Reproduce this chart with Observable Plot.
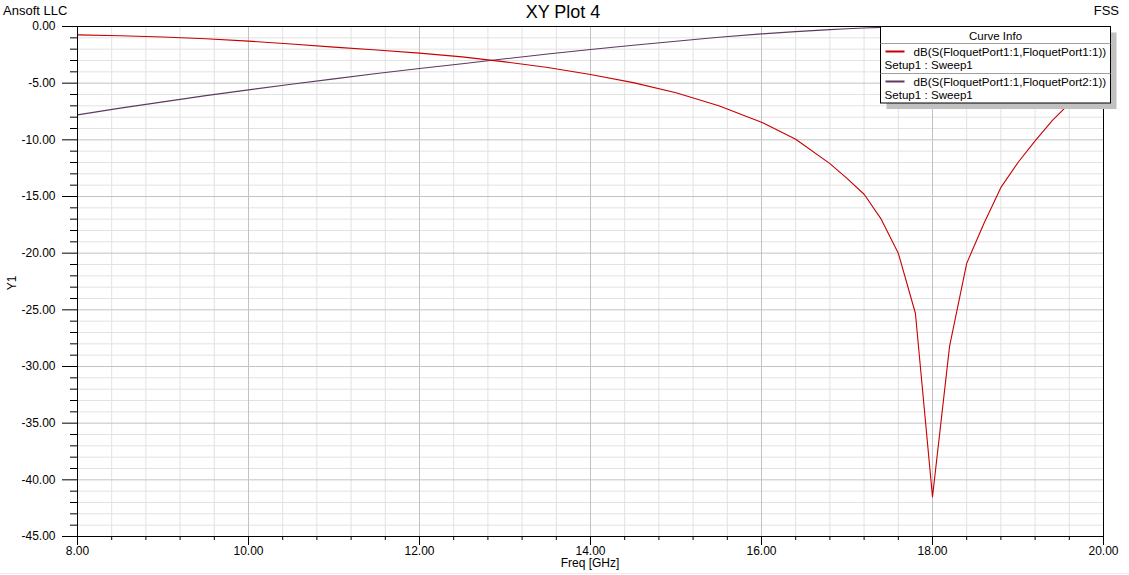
<!DOCTYPE html>
<html>
<head>
<meta charset="utf-8">
<script src="https://cdn.jsdelivr.net/npm/d3@7"></script>
<script src="https://cdn.jsdelivr.net/npm/@observablehq/plot@0.6"></script>
<style>
  html, body { margin: 0; padding: 0; background: #fff; }
  #chart { width: 1129px; height: 575px; position: relative; }
</style>
</head>
<body>
<div id="chart"></div>
<script>
// ---- data ----
const freq = [8.0, 8.5, 9.0, 9.5, 10.0, 10.5, 11.0, 11.5, 12.0, 12.5, 13.0, 13.5, 14.0, 14.5, 15.0, 15.5, 16.0, 16.4, 16.8, 17.0, 17.2, 17.4, 17.6, 17.8, 18.0, 18.2, 18.4, 18.6, 18.8, 19.0, 19.2, 19.4, 19.6, 19.8, 20.0];
const s11 = [-0.74, -0.82, -0.92, -1.08, -1.29, -1.55, -1.82, -2.08, -2.35, -2.68, -3.12, -3.62, -4.24, -4.95, -5.85, -7.0, -8.44, -9.95, -12.1, -13.4, -14.8, -17.0, -20.0, -25.3, -41.5, -28.2, -20.9, -17.4, -14.2, -12.0, -10.1, -8.3, -6.8, -5.6, -4.5];
const s21 = [-7.8, -7.2, -6.65, -6.1, -5.59, -5.1, -4.62, -4.15, -3.71, -3.28, -2.85, -2.42, -2.03, -1.65, -1.3, -0.95, -0.65, -0.45, -0.28, -0.2, -0.13, -0.08, -0.04, -0.01, 0.0, -0.01, -0.04, -0.09, -0.17, -0.28, -0.4, -0.6, -0.9, -1.2, -1.6];
const seriesNames = ["dB(S(FloquetPort1:1,FloquetPort1:1))", "dB(S(FloquetPort1:1,FloquetPort2:1))"];
const seriesSub = "Setup1 : Sweep1";
const seriesColors = ["#c80000", "#5e3a5e"];
const xMajor = [8, 10, 12, 14, 16, 18, 20];
const xMinor = d3.range(0, 31).map(i => +(8 + i * 0.4).toFixed(1)).filter(v => !xMajor.includes(v));
const yMajor = [0, -5, -10, -15, -20, -25, -30, -35, -40, -45];
const yMinor = d3.range(0, -46, -1).filter(v => v % 5 !== 0);

const rows11 = freq.map((f, i) => ({f, v: s11[i]}));
const rows21 = freq.map((f, i) => ({f, v: s21[i]}));

const W = 1129, H = 575;
const FONT = "'Liberation Sans', Arial, sans-serif";

const plot = Plot.plot({
  width: W,
  height: H,
  marginLeft: 77,
  marginRight: 26,
  marginTop: 26,
  marginBottom: 39,
  style: {fontFamily: FONT, fontSize: "12px", color: "#000", background: "#fff", overflow: "visible"},
  x: {domain: [8, 20]},
  y: {domain: [-45, 0]},
  marks: [
    Plot.gridX(xMinor, {stroke: "#e2e2e2", strokeOpacity: 1}),
    Plot.gridY(yMinor, {stroke: "#e2e2e2", strokeOpacity: 1}),
    Plot.gridX(xMajor, {stroke: "#c2c2c2", strokeOpacity: 1}),
    Plot.gridY(yMajor, {stroke: "#c2c2c2", strokeOpacity: 1}),
    Plot.line(rows21, {x: "f", y: "v", stroke: seriesColors[1], strokeWidth: 1.1, clip: true}),
    Plot.line(rows11, {x: "f", y: "v", stroke: seriesColors[0], strokeWidth: 1.1, clip: true}),
    Plot.frame({stroke: "#000", strokeWidth: 1}),
    Plot.axisX(xMinor, {tickSize: 4, tickFormat: () => "", label: null}),
    Plot.axisX(xMajor, {tickSize: 9, tickPadding: 1, tickFormat: d => d.toFixed(2), label: null, fontSize: 12}),
    Plot.axisY(yMinor, {tickSize: 7, tickFormat: () => "", label: null}),
    Plot.axisY(yMajor, {tickSize: 15, tickPadding: 7, tickFormat: d => d.toFixed(2), label: null, fontSize: 12})
  ]
});

document.getElementById("chart").appendChild(plot);

const svg = d3.select(plot);

function txt(parent, x, y, s, anchor, size) {
  return parent.append("text").attr("x", x).attr("y", y)
    .attr("text-anchor", anchor).style("text-anchor", anchor)
    .attr("dominant-baseline", "central")
    .style("font-family", FONT).style("font-size", size + "px").attr("fill", "#000").text(s);
}

// titles and labels
txt(svg, 563, 12, "XY Plot 4", "middle", 18);
txt(svg, 3, 10, "Ansoft LLC", "start", 13);
txt(svg, 1119, 10, "FSS", "end", 13);
svg.append("text").attr("transform", "translate(12,283) rotate(-90)")
  .attr("text-anchor", "middle").style("text-anchor", "middle").attr("dominant-baseline", "central")
  .style("font-family", FONT).style("font-size", "12px").attr("fill", "#000").text("Y1");
txt(svg, 590, 563, "Freq [GHz]", "middle", 12);

// faint bottom border
svg.append("line").attr("x1", 0).attr("x2", W).attr("y1", 573.5).attr("y2", 573.5).attr("stroke", "#ececec");

// legend
const lg = svg.append("g");
const L = {x: 880.5, y: 26.5, w: 230, h: 76.5};
lg.append("rect").attr("x", L.x + 6).attr("y", L.y + 6).attr("width", L.w).attr("height", L.h).attr("fill", "#c0c0c0");
lg.append("rect").attr("x", L.x).attr("y", L.y).attr("width", L.w).attr("height", L.h).attr("fill", "#fff").attr("stroke", "#000");
txt(lg, L.x + L.w / 2, L.y + 9, "Curve Info", "middle", 11.5);
lg.append("line").attr("x1", L.x).attr("x2", L.x + L.w).attr("y1", L.y + 17).attr("y2", L.y + 17).attr("stroke", "#a0a0a0");
seriesNames.forEach((name, i) => {
  const top = L.y + 17 + i * 30;
  lg.append("line").attr("x1", L.x + 5).attr("x2", L.x + 24).attr("y1", top + 8).attr("y2", top + 8)
    .attr("stroke", seriesColors[i]).attr("stroke-width", 2);
  txt(lg, L.x + 33, top + 8, name, "start", 11.6);
  txt(lg, L.x + 4, top + 21, seriesSub, "start", 11.6);
  if (i === 0) lg.append("line").attr("x1", L.x).attr("x2", L.x + L.w).attr("y1", top + 30).attr("y2", top + 30).attr("stroke", "#a0a0a0");
});
</script>
</body>
</html>
